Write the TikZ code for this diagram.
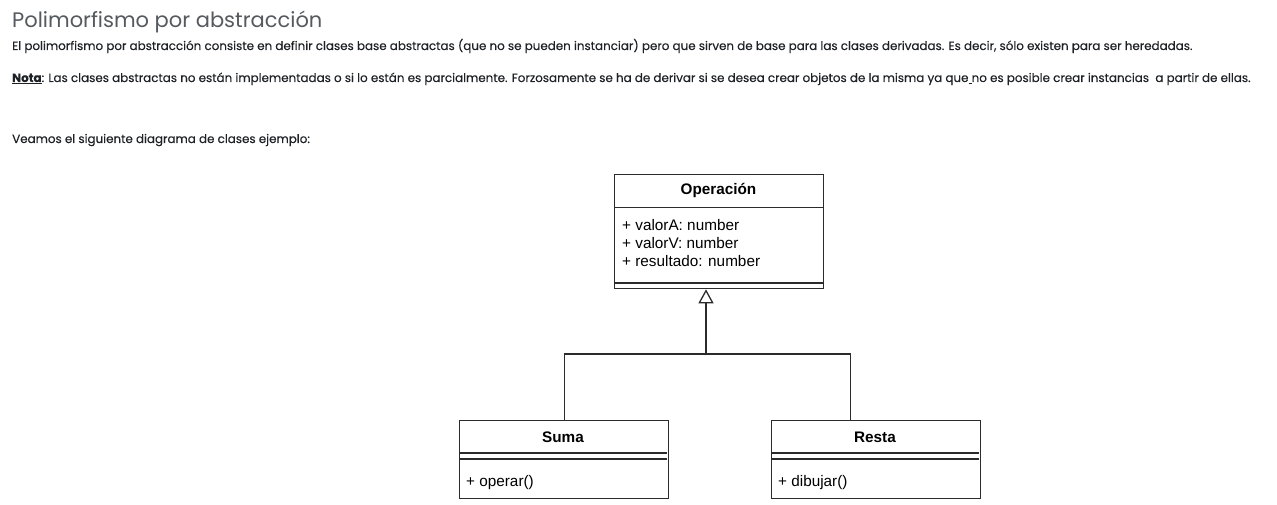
\documentclass[tikz,border=0pt]{standalone}
\usepackage{fontspec}
\setmainfont{Poppins}
\newfontfamily\bodyfont[FakeBold=0.35]{Poppins}
\newfontfamily\umlfont{Liberation Sans}
\usetikzlibrary{arrows.meta}
\definecolor{titlegray}{HTML}{555A5F}
\definecolor{bodytext}{HTML}{1E2226}
\definecolor{umlline}{HTML}{2B2B2B}
\tikzset{
  bodyline/.style={anchor=base west, inner sep=0, text=bodytext, font=\bodyfont\fontsize{11.9}{13}\selectfont},
  classbox/.style={draw=umlline, line width=1.3pt, anchor=north west, minimum width=209pt, inner sep=0},
  sepline/.style={draw=umlline, line width=1.3pt},
  umltitle/.style={font=\umlfont\bfseries\fontsize{15.3}{18}\selectfont, inner sep=0},
  umltext/.style={font=\umlfont\fontsize{15.3}{18}\selectfont, anchor=base west, inner sep=0, align=left},
  conn/.style={draw=umlline, line width=1.3pt},
}
\begin{document}
\begin{tikzpicture}[x=1pt,y=-1pt]
\useasboundingbox (0,0) rectangle (1277,505);
% header texts
\node[anchor=base west, inner sep=0, text=titlegray, font=\fontsize{21}{24}\selectfont] (title) at (12,28) {Polimorfismo por abstracción};
\node[bodyline] (l1) at (12,50) {El polimorfismo por abstracción consiste en definir clases base abstractas (que no se pueden instanciar) pero que sirven de base para las clases derivadas. Es decir, sólo existen para ser heredadas.};
\node[bodyline] (l2) at (12,82) {\textbf{\underline{Nota}}: Las clases abstractas no están implementadas o si lo están es parcialmente. Forzosamente se ha de derivar si se desea crear objetos de la misma ya que\underline{ }no es posible crear instancias\ \ a partir de ellas.};
\node[bodyline] (l3) at (12,143) {Veamos el siguiente diagrama de clases ejemplo:};

% Operacion class
\node[classbox, minimum height=114pt] (op) at (614,174) {};
\node[umltitle] (opname) at (718.5,190.5) {Operación};
\draw[sepline] (614,207.5) -- (823,207.5);
\node[umltext] (opattr1) at (622,230) {+ valorA: number};
\node[umltext] (opattr2) at (622,248) {+ valorV: number};
\node[umltext] (opattr3) at (622,266) {+ resultado: number};
\draw[sepline] (614,283) -- (823,283);

% Suma class
\node[classbox, minimum height=78pt] (suma) at (459,420) {};
\node[umltitle] (sumaname) at (563,437) {Suma};
\draw[sepline] (459,453) -- (667,453);
\draw[sepline] (459,459) -- (667,459);
\node[umltext] (sumam) at (466,486) {+ operar()};

% Resta class
\node[classbox, minimum height=78pt] (resta) at (771,420) {};
\node[umltitle] (restaname) at (875,437) {Resta};
\draw[sepline] (771,453) -- (979,453);
\draw[sepline] (771,459) -- (979,459);
\node[umltext] (restam) at (778,486) {+ dibujar()};

% inheritance connectors
\coordinate (j) at (706,354);
\draw[conn] (suma.north) |- (j);
\draw[conn] ([xshift=-26pt]resta.north) |- (j);
\draw[conn, -{Triangle[open, width=15pt, length=14pt, line width=1.3pt]}] (j) -- (op.south -| j);
\end{tikzpicture}
\end{document}
